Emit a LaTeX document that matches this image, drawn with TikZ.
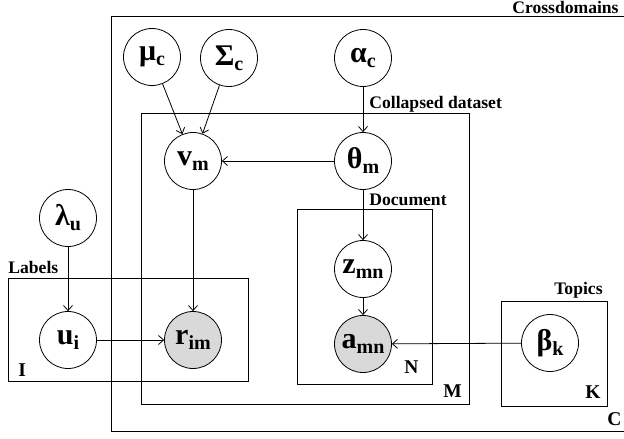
\documentclass[tikz,border=0pt]{standalone}
\usepackage{fontspec}
\setmainfont{Liberation Serif}
\usepackage{xcolor}
\usetikzlibrary{arrows.meta}

\definecolor{obsgray}{HTML}{D9D9D9}
\newcommand{\lowsub}[1]{\raisebox{-5pt}{\fontsize{20}{20}\selectfont #1}}

\begin{document}
\begin{tikzpicture}[x=1pt, y=-1pt, line width=0.8pt,
    var/.style={circle, draw, fill=white, minimum size=57pt, inner sep=0pt,
        font=\fontsize{30}{30}\selectfont\bfseries},
    obs/.style={var, fill=obsgray},
    plate/.style={draw, line width=0.9pt},
    lbl/.style={inner sep=0pt, font=\fontsize{17.6}{17.6}\selectfont\bfseries},
    cnt/.style={lbl, font=\fontsize{19.5}{19.5}\selectfont\bfseries},
    arr/.style={-{Straight Barb[length=5pt, width=9pt]}}]
    \useasboundingbox (0,0) rectangle (624,439);
    % plates
    \draw[plate] (111,16) rectangle (630,431);
    \draw[plate] (141,113) rectangle (469,404);
    \draw[plate] (297,209) rectangle (432,384);
    \draw[plate] (8,278) rectangle (248,381);
    \draw[plate] (501,301) rectangle (607,406);
    \node[lbl, anchor=base east] (crosslbl) at (619,13) {Crossdomains};
    \node[lbl, anchor=base west] (collapsedlbl) at (369,108) {Collapsed dataset};
    \node[lbl, anchor=base west] (doclbl) at (369,205) {Document};
    \node[lbl, anchor=base west] (labelslbl) at (8,273) {Labels};
    \node[lbl, anchor=base east] (topicslbl) at (603,294) {Topics};
    \node[cnt, anchor=base west] (ilbl) at (18,376) {I};
    \node[cnt, anchor=base west] (nlbl) at (404,373) {N};
    \node[cnt, anchor=base west] (mlbl) at (443,397) {M};
    \node[cnt, anchor=base west] (klbl) at (585,398) {K};
    \node[cnt, anchor=base west] (clbl) at (607,425) {C};
    % variables
    \node[var] (mu) at (152,57) {μ\lowsub{c}};
    \node[var] (sigma) at (229,58) {Σ\lowsub{c}};
    \node[var] (alpha) at (363,58) {α\lowsub{c}};
    \node[var] (v) at (193,161) {v\lowsub{m}};
    \node[var] (theta) at (363,161) {θ\lowsub{m}};
    \node[var] (lambda) at (68,218) {λ\lowsub{u}};
    \node[var] (z) at (363,269) {z\lowsub{mn}};
    \node[var] (u) at (68,340) {u\lowsub{i}};
    \node[obs] (r) at (193,340) {r\lowsub{im}};
    \node[obs] (a) at (363,344) {a\lowsub{mn}};
    \node[var] (beta) at (550,343) {β\lowsub{k}};
    % edges
    \draw[arr] (mu) -- (v);
    \draw[arr] (sigma) -- (v);
    \draw[arr] (alpha) -- (theta);
    \draw[arr] (theta) -- (v);
    \draw[arr] (v) -- (r);
    \draw[arr] (lambda) -- (u);
    \draw[arr] (u) -- (r);
    \draw[arr] (theta) -- (z);
    \draw[arr] (z) -- (a);
    \draw[arr] (beta) -- (a);
\end{tikzpicture}
\end{document}
